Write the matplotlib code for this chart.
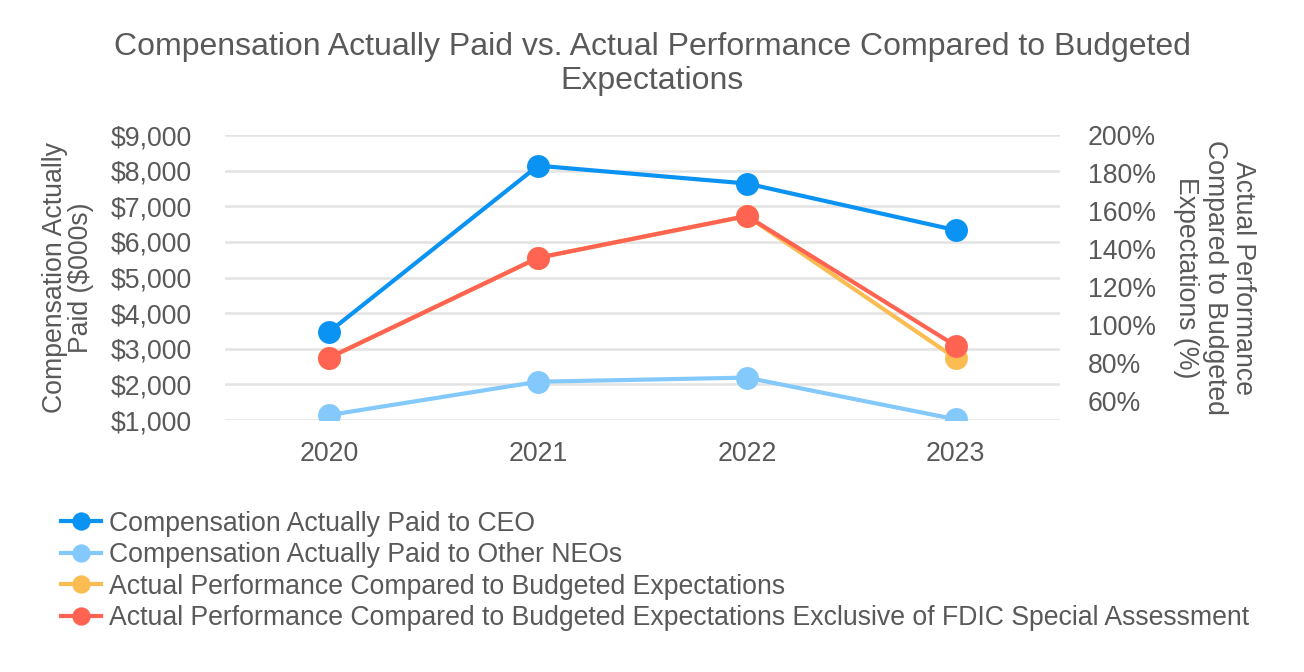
import matplotlib
matplotlib.use("Agg")
import matplotlib.pyplot as plt

plt.rcParams['font.family'] = ['Liberation Sans', 'DejaVu Sans']

# data
years = ['2020', '2021', '2022', '2023']
cap_ceo = [3480, 8140, 7640, 6330]
cap_neo = [1140, 2075, 2190, 1020]
perf = [82.8, 135.4, 157.4, 82.5]
perf_excl_fdic = [82.8, 135.4, 157.4, 89.1]

left_ticks = [1000, 2000, 3000, 4000, 5000, 6000, 7000, 8000, 9000]
right_ticks = [60, 80, 100, 120, 140, 160, 180, 200]

c_ceo = '#0A93F2'
c_neo = '#84C9FC'
c_perf = '#FBBD52'
c_excl = '#FF6352'
txt = '#595959'
fs = 19.2

fig = plt.figure(figsize=(13.04, 6.72), dpi=100)
ax = fig.add_axes([0.1725, 0.375, 0.6404, 0.424])
ax2 = ax.twinx()

x = range(len(years))
kw = dict(marker='o', markersize=16.5, linewidth=3, markeredgewidth=0)
l1, = ax.plot(x, cap_ceo, color=c_ceo, label='Compensation Actually Paid to CEO', **kw)
l2, = ax.plot(x, cap_neo, color=c_neo, label='Compensation Actually Paid to Other NEOs', **kw)
l3, = ax2.plot(x, perf, color=c_perf, label='Actual Performance Compared to Budgeted Expectations', **kw)
l4, = ax2.plot(x, perf_excl_fdic, color=c_excl,
               label='Actual Performance Compared to Budgeted Expectations Exclusive of FDIC Special Assessment', **kw)

ax.set_xlim(-0.5, len(years) - 0.5)
ax.set_ylim(1000, 9000)
ax.set_yticks(left_ticks)
ax.set_yticklabels(['${:,}'.format(v) for v in left_ticks])
ax.set_xticks(list(x))
ax.set_xticklabels(years)
ax2.set_ylim(50, 200)
ax2.set_yticks(right_ticks)
ax2.set_yticklabels(['{}%'.format(v) for v in right_ticks])

ax.grid(axis='y', color='#E3E3E3', linewidth=1.8)
ax.set_axisbelow(True)
for a in (ax, ax2):
    for s in a.spines.values():
        s.set_visible(False)
    a.tick_params(length=0, labelsize=fs, labelcolor=txt)
ax.tick_params(axis='y', pad=24)
ax.tick_params(axis='x', pad=15)
ax2.tick_params(axis='y', pad=20)

ax.set_ylabel('Compensation Actually\nPaid ($000s)', fontsize=fs, color=txt, labelpad=12, linespacing=0.98)
ax2.set_ylabel('Actual Performance\nCompared to Budgeted\nExpectations (%)', fontsize=fs, color=txt,
               rotation=270, labelpad=72, linespacing=1.12)

fig.suptitle('Compensation Actually Paid vs. Actual Performance Compared to Budgeted\nExpectations',
             fontsize=23, color=txt, y=0.952, linespacing=1.15)

fig.legend(handles=[l1, l2, l3, l4], loc='upper left', bbox_to_anchor=(0.028, 0.276),
           frameon=False, fontsize=fs, labelcolor=txt, handlelength=1.5, handletextpad=0.3,
           labelspacing=0.21, markerscale=0.8)

fig.savefig('out.png', dpi=100)
